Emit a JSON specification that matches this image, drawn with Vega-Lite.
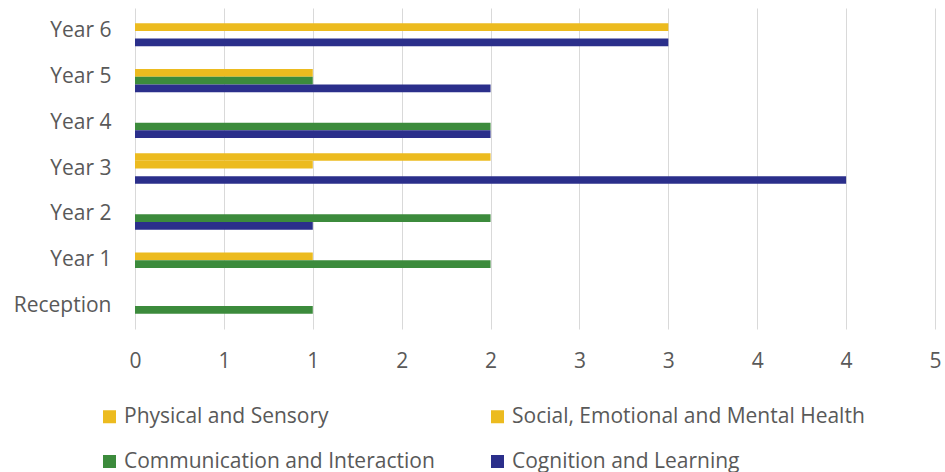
{
  "$schema": "https://vega.github.io/schema/vega-lite/v6.json",
  "width": 800,
  "height": 321,
  "autosize": {"type": "none"},
  "padding": {"left": 135, "top": 8, "right": 10, "bottom": 143},
  "background": "white",
  "config": {
    "view": {"stroke": null},
    "font": "Open Sans",
    "axis": {"labelFont": "Open Sans", "labelColor": "#595959", "labelFontSize": 21},
    "legend": {"labelFont": "Open Sans", "labelColor": "#595959", "labelFontSize": 21}
  },
  "data": {
    "values": [
      {"year": "Year 6", "need": "Social, Emotional and Mental Health", "count": 3},
      {"year": "Year 6", "need": "Cognition and Learning", "count": 3},
      {"year": "Year 5", "need": "Social, Emotional and Mental Health", "count": 1},
      {"year": "Year 5", "need": "Communication and Interaction", "count": 1},
      {"year": "Year 5", "need": "Cognition and Learning", "count": 2},
      {"year": "Year 4", "need": "Communication and Interaction", "count": 2},
      {"year": "Year 4", "need": "Cognition and Learning", "count": 2},
      {"year": "Year 3", "need": "Physical and Sensory", "count": 2},
      {"year": "Year 3", "need": "Social, Emotional and Mental Health", "count": 1},
      {"year": "Year 3", "need": "Cognition and Learning", "count": 4},
      {"year": "Year 2", "need": "Communication and Interaction", "count": 2},
      {"year": "Year 2", "need": "Cognition and Learning", "count": 1},
      {"year": "Year 1", "need": "Social, Emotional and Mental Health", "count": 1},
      {"year": "Year 1", "need": "Communication and Interaction", "count": 2},
      {"year": "Reception", "need": "Communication and Interaction", "count": 1}
    ]
  },
  "mark": {"type": "bar"},
  "encoding": {
    "y": {
      "field": "year",
      "type": "nominal",
      "sort": ["Year 6", "Year 5", "Year 4", "Year 3", "Year 2", "Year 1", "Reception"],
      "scale": {"domain": ["Year 6", "Year 5", "Year 4", "Year 3", "Year 2", "Year 1", "Reception"], "paddingInner": 0.33, "paddingOuter": 0.165},
      "axis": {"title": null, "domain": false, "ticks": false, "grid": false, "labelPadding": 24}
    },
    "yOffset": {
      "field": "need",
      "type": "nominal",
      "scale": {"domain": ["Physical and Sensory", "Social, Emotional and Mental Health", "Communication and Interaction", "Cognition and Learning"], "paddingInner": 0, "paddingOuter": 0}
    },
    "x": {
      "field": "count",
      "type": "quantitative",
      "scale": {"domain": [0, 4.5], "nice": false},
      "axis": {
        "title": null,
        "domain": false,
        "ticks": false,
        "grid": true,
        "gridColor": "#D9D9D9",
        "values": [0, 0.5, 1, 1.5, 2, 2.5, 3, 3.5, 4, 4.5],
        "labelExpr": "format(round(datum.value), 'd')",
        "labelPadding": 21,
        "labelFlush": false
      }
    },
    "color": {
      "field": "need",
      "type": "nominal",
      "scale": {
        "domain": ["Physical and Sensory", "Social, Emotional and Mental Health", "Communication and Interaction", "Cognition and Learning"],
        "range": ["#ECBB1F", "#ECBB1F", "#3C8B3C", "#2B2F8B"]
      },
      "legend": {
        "title": null,
        "orient": "none",
        "legendX": -36,
        "legendY": 398,
        "direction": "horizontal",
        "columns": 2,
        "columnPadding": 52,
        "rowPadding": 23,
        "symbolType": "square",
        "symbolSize": 169,
        "symbolStrokeWidth": 0,
        "symbolOpacity": 1,
        "labelOffset": 4,
        "labelLimit": 450
      }
    }
  }
}
